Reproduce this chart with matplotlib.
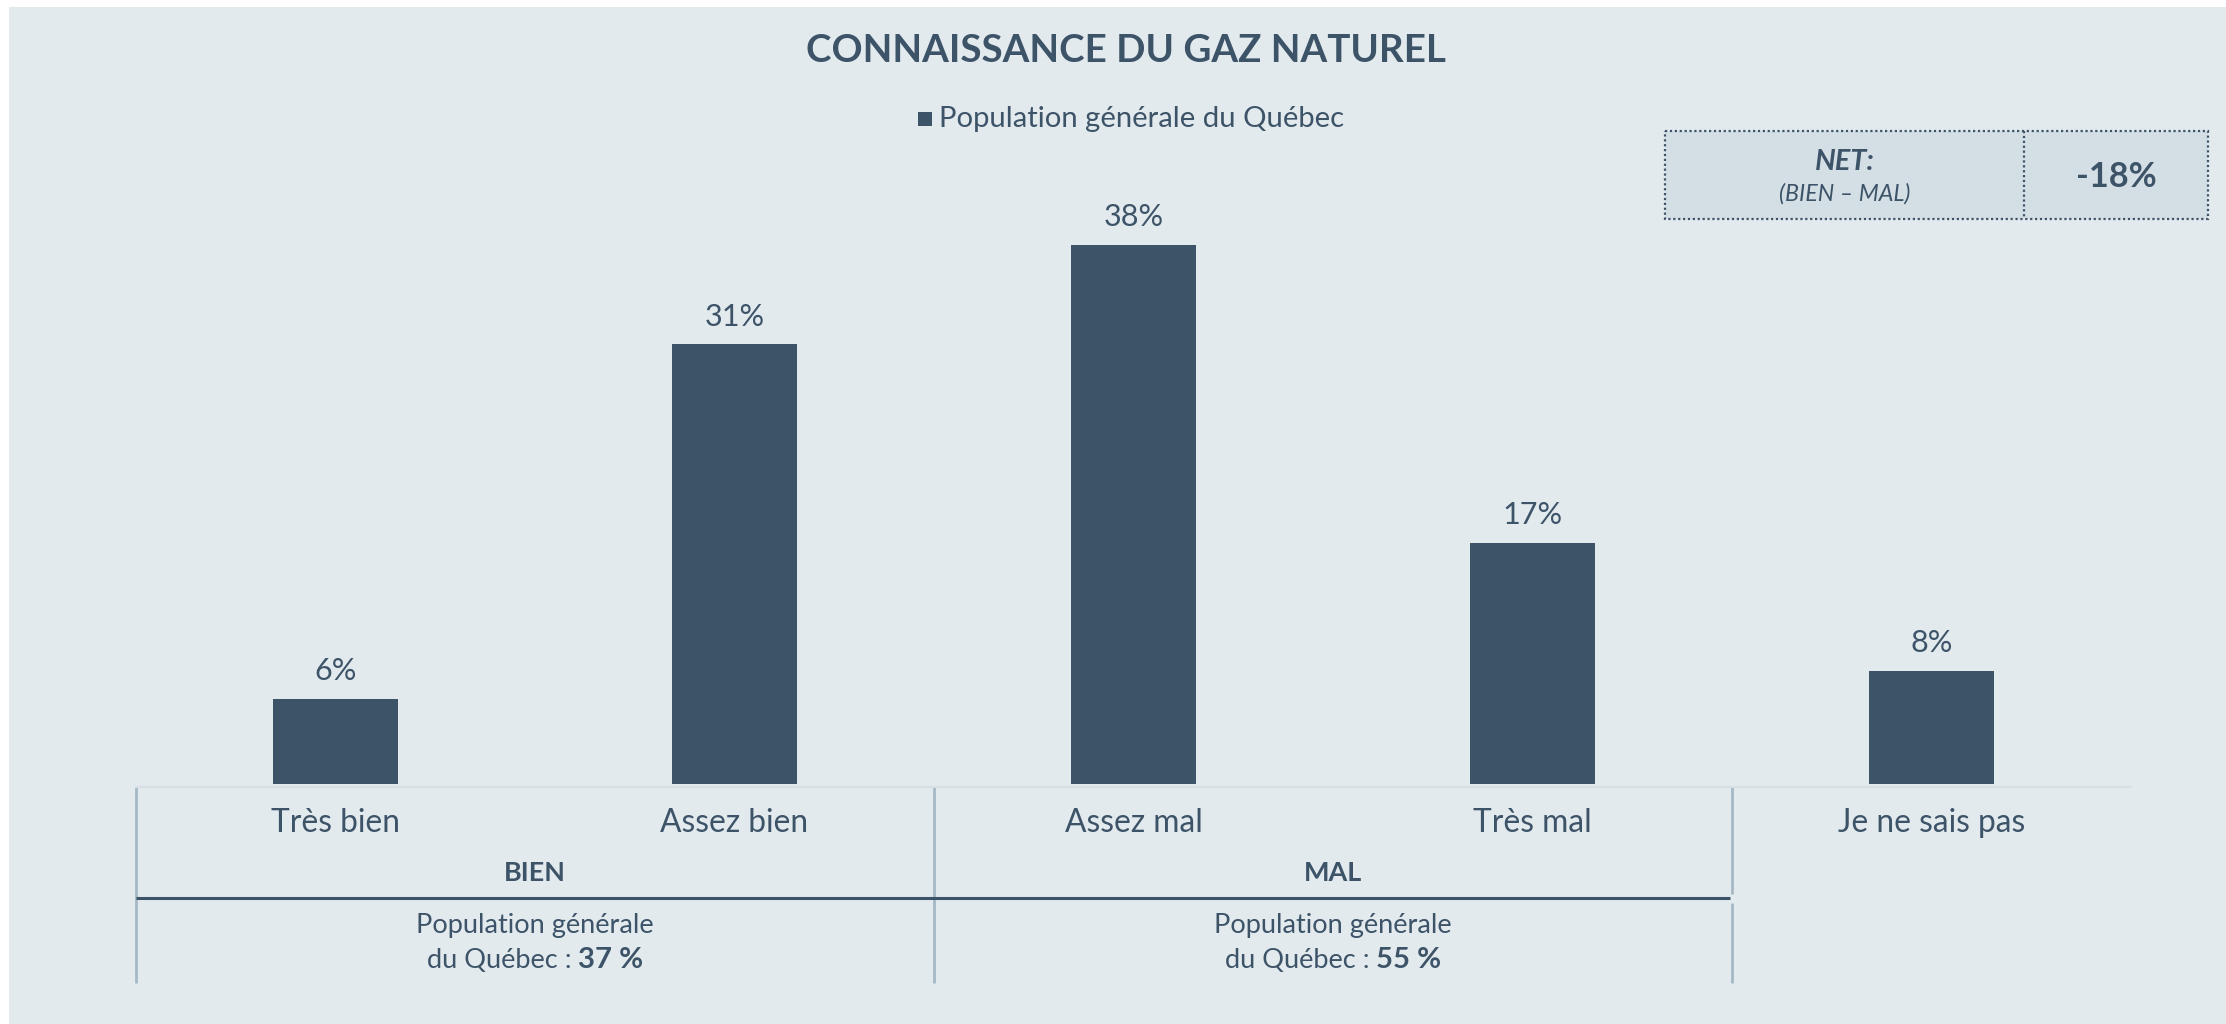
import matplotlib
matplotlib.use("Agg")
import matplotlib.pyplot as plt
from matplotlib.patches import Rectangle

# ---- data ----
categories = ["Très bien", "Assez bien", "Assez mal", "Très mal", "Je ne sais pas"]
values = [6, 31, 38, 17, 8]
series_name = "Population générale du Québec"
groups = ["BIEN", "MAL"]
group_spans = [(0, 1), (2, 3)]
group_totals = [37, 55]
net_value = -18
title = "CONNAISSANCE DU GAZ NATUREL"

# ---- style ----
W, H = 2226, 1024
DPI = 100
BG = "#E2EAEE"
BAR = "#3D5368"
TXT = "#3D5368"
SEP = "#A5B9C5"
BOXFILL = "#D4DEE5"
FONT = ["Lato", "DejaVu Sans"]
plt.rcParams["font.family"] = FONT

fig = plt.figure(figsize=(W / DPI, H / DPI), dpi=DPI, facecolor="white")
renderer = fig.canvas.get_renderer()

# overlay axes in pixel coordinates (y downward)
ov = fig.add_axes([0, 0, 1, 1], zorder=0)
ov.set_xlim(0, W)
ov.set_ylim(H, 0)
ov.axis("off")
ov.add_patch(Rectangle((9, 7), W - 9, H - 7, facecolor=BG, edgecolor="none", zorder=0))

# main bar axes
x_left, x_right = 136, 2131
y_base, y_top = 784, 140
px_per_unit = (784 - 245) / 38.0
ax = fig.add_axes([x_left / W, (H - y_base) / H, (x_right - x_left) / W, (y_base - y_top) / H], zorder=2)
ax.patch.set_alpha(0)
xs = list(range(len(categories)))
bars = ax.bar(xs, values, width=0.313, color=BAR, zorder=3)
ax.set_xlim(-0.5, len(categories) - 0.5)
ax.set_ylim(0, (y_base - y_top) / px_per_unit)
for s in ["top", "right", "left"]:
    ax.spines[s].set_visible(False)
ax.spines["bottom"].set_color("#D6E0E6")
ax.spines["bottom"].set_linewidth(1.5)
ax.spines["bottom"].set_position(("outward", 2))
ax.set_yticks([])
ax.set_xticks([])


def fit_size(s, target_w, **kw):
    t = fig.text(0, 0, s, fontsize=20, **kw)
    w = t.get_window_extent(renderer).width
    t.remove()
    return 20 * target_w / w


# data labels
lab_fs = fit_size("38%", 60)
for b, v in zip(bars, values):
    ax.annotate(f"{v}%", (b.get_x() + b.get_width() / 2, v), xytext=(0, 20),
                textcoords="offset points", ha="center", va="center",
                fontsize=lab_fs, color=TXT, zorder=4)

# category labels
tick_fs = fit_size("Je ne sais pas", 188)
for i, c in enumerate(categories):
    ov.text(x_left + (i + 0.5) * (x_right - x_left) / len(categories), 823, c,
            ha="center", va="center", fontsize=tick_fs, color=TXT)

# title
title_fs = fit_size(title, 639, fontweight="bold")
ov.text(1126, 51, title, ha="center", va="center", fontsize=title_fs,
        fontweight="bold", color=TXT)

# legend
leg_fs = fit_size(series_name, 406)
ov.add_patch(Rectangle((918, 112), 14, 14, facecolor=BAR, edgecolor="none"))
ov.text(939, 119, series_name, ha="left", va="center", fontsize=leg_fs, color=TXT)

# NET box
bx0, bx1, bdiv, by0, by1 = 1665, 2208, 2024, 131, 219
ov.add_patch(Rectangle((bx0, by0), bx1 - bx0, by1 - by0, facecolor=BOXFILL,
                       edgecolor=TXT, linestyle=(0, (1, 1.2)), linewidth=1.6))
ov.plot([bdiv, bdiv], [by0, by1], color=TXT, linestyle=(0, (1, 1.2)), linewidth=1.6)
net_fs = fit_size("NET:", 50, fontweight="bold", fontstyle="italic") * 1.2
ov.text((bx0 + bdiv) / 2, 162, "NET:", ha="center", va="center", fontsize=net_fs,
        fontweight="bold", fontstyle="italic", color=TXT)
sub_fs = fit_size("(BIEN – MAL)", 125, fontstyle="italic") * 1.05
ov.text((bx0 + bdiv) / 2, 194, "(BIEN – MAL)", ha="center", va="center",
        fontsize=sub_fs, fontstyle="italic", color=TXT)
val_fs = fit_size(f"{net_value}%", 75, fontweight="bold") * 1.08
ov.text((bdiv + bx1) / 2, 177, f"{net_value}%", ha="center", va="center",
        fontsize=val_fs, fontweight="bold", color=TXT)

# group separators and labels
slot = (x_right - x_left) / len(categories)
seps = [x_left + k * slot for k in (0, 2, 4)]
for k, sx in enumerate(seps):
    if k == len(seps) - 1:
        ov.plot([sx, sx], [787, 894], color=SEP, lw=2.0, solid_capstyle="butt")
        ov.plot([sx, sx], [903, 983], color=SEP, lw=2.0, solid_capstyle="butt")
    else:
        ov.plot([sx, sx], [787, 983], color=SEP, lw=2.0, solid_capstyle="butt")
ov.plot([seps[0], seps[-1] - 2], [898, 898], color=TXT, lw=2.2, solid_capstyle="butt")

grp_fs = fit_size("BIEN", 54, fontweight="bold") * 1.15
pop_fs = fit_size("Population générale", 238)
for g, (a, b), tot in zip(groups, group_spans, group_totals):
    cx = x_left + ((a + b) / 2 + 0.5) * slot
    ov.text(cx, 873, g, ha="center", va="center", fontsize=grp_fs,
            fontweight="bold", color=TXT)
    ov.text(cx, 926, "Population générale", ha="center", va="center",
            fontsize=pop_fs, color=TXT)
    p1 = "du Québec : "
    p2 = f"{tot} %"
    t1 = ov.text(0, 960, p1, ha="left", va="center", fontsize=pop_fs, color=TXT)
    t2 = ov.text(0, 960, p2, ha="left", va="center", fontsize=pop_fs * 1.08,
                 fontweight="bold", color=TXT)
    w1 = t1.get_window_extent(renderer).width
    w2 = t2.get_window_extent(renderer).width
    start = cx - (w1 + w2) / 2
    t1.set_x(start)
    t2.set_x(start + w1)

fig.savefig("out.png", dpi=DPI, facecolor="white")
